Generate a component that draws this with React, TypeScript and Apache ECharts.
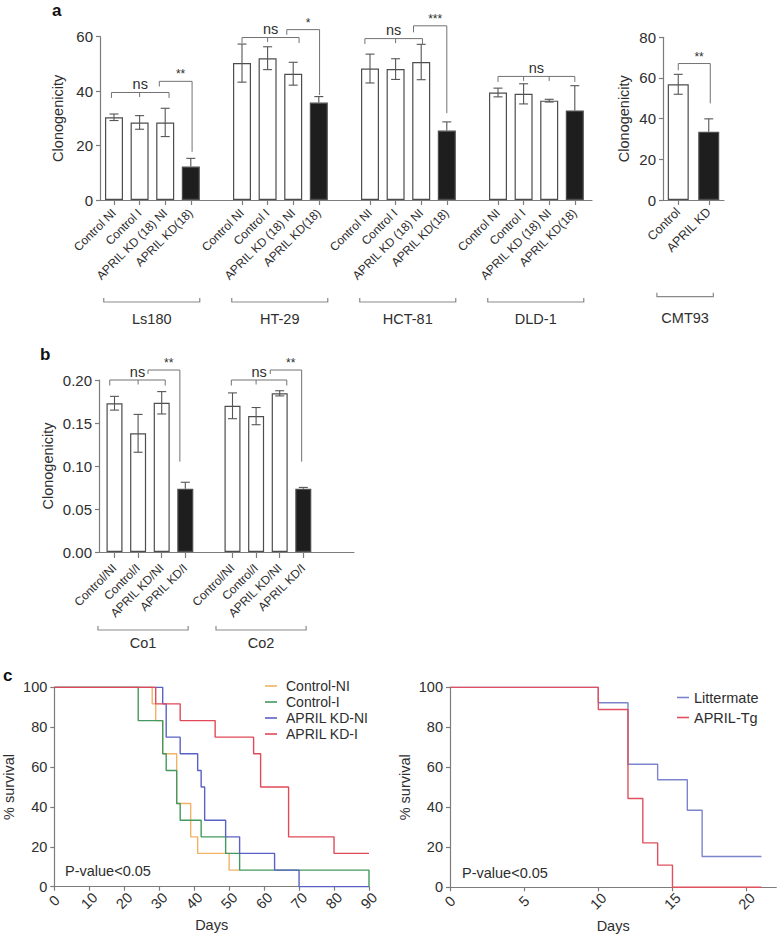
import React, { useEffect, useRef } from 'react';
import * as echarts from 'echarts';

const FONT = "'Liberation Sans', Arial, Helvetica, sans-serif";
const TXT = '#2e2e2e';
const AXIS = '#7c7c7c';
const EDGE = '#4d4d4d';
const DARK = '#1e1e1e';
const BRK = '#727272';

// ---------------- Panel a (human cell lines) ----------------
const aGroups = ['Ls180', 'HT-29', 'HCT-81', 'DLD-1'];
const aConditions = ['Control NI', 'Control I', 'APRIL KD (18) NI', 'APRIL KD(18)'];
const aDark = [false, false, false, true];
const ls180Means = [30.4, 28.5, 28.5, 12.3];
const ls180Errors = [1.2, 2.5, 5.2, 3.0];
const ht29Means = [50.3, 52.1, 46.4, 35.8];
const ht29Errors = [7.0, 4.2, 4.2, 2.2];
const hct81Means = [48.3, 48.1, 50.7, 25.5];
const hct81Errors = [5.3, 3.8, 6.5, 3.2];
const dld1Means = [39.5, 39.0, 36.5, 32.9];
const dld1Errors = [1.6, 3.7, 0.5, 9.1];
const aMeans = [ls180Means, ht29Means, hct81Means, dld1Means];
const aErrors = [ls180Errors, ht29Errors, hct81Errors, dld1Errors];
const aYTicks = { min: 0, max: 60, interval: 20 };
// significance annotations (x in category index units, y in data units)
const aNsBrackets = [
  { from: -0.1, to: 2.15, y: 39.5, label: 'ns' },
  { from: 5, to: 7.23, y: 59.7, label: 'ns' },
  { from: 9.8, to: 12.05, y: 59.3, label: 'ns' },
  { from: 15, to: 18, y: 45.4, label: 'ns' },
];
const aStarBrackets = [
  { x0: 1.77, y0: 41.7, top: 43.6, x1: 3.05, y1: 17.7, label: '**' },
  { x0: 6.75, y0: 60.7, top: 62.6, x1: 8.03, y1: 38.6, label: '*' },
  { x0: 11.7, y0: 61.6, top: 64.0, x1: 13, y1: 31.9, label: '***' },
];

// ---------------- Panel a (CMT93) ----------------
const cmtGroup = 'CMT93';
const cmtConditions = ['Control', 'APRIL KD'];
const cmtDark = [false, true];
const cmtMeans = [56.9, 33.5];
const cmtErrors = [4.9, 6.4];
const cmtYTicks = { min: 0, max: 80, interval: 20 };
const cmtStarBrackets = [{ x0: 0, y0: 63.8, top: 67.1, x1: 1.05, y1: 47.5, label: '**' }];

// ---------------- Panel b ----------------
const bGroups = ['Co1', 'Co2'];
const bConditions = ['Control/NI', 'Control/I', 'APRIL KD/NI', 'APRIL KD/I'];
const bDark = [false, false, false, true];
const co1Means = [0.173, 0.138, 0.1735, 0.0736];
const co1Errors = [0.008, 0.022, 0.013, 0.0075];
const co2Means = [0.170, 0.158, 0.1845, 0.0736];
const co2Errors = [0.015, 0.010, 0.003, 0.0015];
const bMeans = [co1Means, co2Means];
const bErrors = [co1Errors, co2Errors];
const bYTicks = { min: 0, max: 0.2, interval: 0.05 };
const bNsBrackets = [
  { from: -0.2, to: 2.15, y: 0.2, label: 'ns' },
  { from: 4.95, to: 7.3, y: 0.2, label: 'ns' },
];
const bStarBrackets = [
  { x0: 1.42, y0: 0.207, top: 0.2116, x1: 2.77, y1: 0.105, label: '**' },
  { x0: 6.6, y0: 0.207, top: 0.2116, x1: 7.93, y1: 0.105, label: '**' },
];

// ---------------- Panel c (survival) ----------------
const kmLeftNames = ['Control-NI', 'Control-I', 'APRIL KD-NI', 'APRIL KD-I'];
const kmLeftColors = ['#F2B266', '#43995F', '#5A61C4', '#E04A58'];
const controlNI = [[0, 100], [28, 91.7], [29, 83.3], [31, 66.7], [35, 41.7], [39, 25], [41, 16.7], [50, 8.3], [53, 8.3]];
const controlI = [[0, 100], [24, 83.3], [31, 66.7], [32, 58.3], [35, 41.7], [36, 33.3], [42, 25], [49, 16.7], [53, 8.3], [90, 0]];
const aprilKdNI = [[0, 100], [31, 91.7], [32, 75], [36, 66.7], [41, 58.3], [42, 50], [43, 33.3], [49, 25], [53, 16.7], [63, 8.3], [70, 0], [90, 0]];
const aprilKdI = [[0, 100], [29, 91.7], [36, 83.3], [46, 75], [57, 66.7], [59, 50], [67, 25], [80, 16.7], [90, 16.7]];
const kmLeftData = [controlNI, controlI, aprilKdNI, aprilKdI];

const kmRightNames = ['Littermate', 'APRIL-Tg'];
const kmRightColors = ['#7C85CC', '#E0505F'];
const littermate = [[0, 100], [10, 92.3], [12, 61.5], [14, 53.8], [16, 38.5], [17, 15.4], [21, 15.4]];
const aprilTg = [[0, 100], [10, 88.9], [12, 44.4], [13, 22.2], [14, 11.1], [15, 0], [21, 0]];
const kmRightData = [littermate, aprilTg];
const pValueText = 'P-value<0.05';

// ---------------- helpers ----------------
function barStyle(dark: boolean) {
  return { color: dark ? DARK : '#ffffff', borderColor: EDGE, borderWidth: 1.2 };
}

function buildGrouped(groups: string[], conds: string[], means: number[][], errs: number[][], dark: boolean[]) {
  const cats: string[] = [];
  const bars: any[] = [];
  const errData: any[] = [];
  const starts: number[] = [];
  groups.forEach((g, gi) => {
    starts.push(cats.length);
    conds.forEach((c, ci) => {
      const idx = cats.length;
      cats.push(c);
      bars.push({ value: means[gi][ci], itemStyle: barStyle(dark[ci]) });
      errData.push([idx, means[gi][ci], errs[gi][ci], dark[ci] ? 1 : 0]);
    });
    if (gi < groups.length - 1) {
      cats.push('');
      bars.push('-');
    }
  });
  return { cats, bars, errData, starts };
}

function xAt(api: any, v: number) {
  const i = Math.floor(v);
  const a = api.coord([i, 0])[0];
  const b = api.coord([i + 1, 0])[0];
  return a + (v - i) * (b - a);
}
function yAt(api: any, v: number) {
  return api.coord([0, v])[1];
}
function txt(text: string, x: number, y: number, size: number, align: string, valign: string) {
  return {
    type: 'text',
    style: {
      text, x, y, fill: TXT, fontSize: size, fontFamily: FONT,
      align, verticalAlign: valign, textAlign: align, textVerticalAlign: valign,
    },
  };
}
function seg(x1: number, y1: number, x2: number, y2: number, color = BRK, w = 1) {
  return { type: 'line', shape: { x1, y1, x2, y2 }, style: { stroke: color, lineWidth: w } };
}

const errRender = (params: any, api: any) => {
  const i = api.value(0);
  const m = api.value(1);
  const e = api.value(2);
  const dark = api.value(3);
  const x = api.coord([i, m])[0];
  const yT = api.coord([i, m + e])[1];
  const yB = api.coord([i, dark ? m : m - e])[1];
  const w = 4.5;
  const c = '#555555';
  const ch: any[] = [seg(x, yT, x, yB, c, 1.1), seg(x - w, yT, x + w, yT, c, 1.1)];
  if (!dark) ch.push(seg(x - w, yB, x + w, yB, c, 1.1));
  return { type: 'group', children: ch };
};

const nsRender = (list: any[]) => (params: any, api: any) => {
  const b = list[params.dataIndex];
  const xa = xAt(api, b.from);
  const xb = xAt(api, b.to);
  const y = yAt(api, b.y);
  const ch: any[] = [
    { type: 'polyline', shape: { points: [[xa, y + 5.5], [xa, y], [xb, y], [xb, y + 5.5]] }, style: { stroke: BRK, lineWidth: 1, fill: 'none' } },
  ];
  for (let i = Math.ceil(b.from); i <= Math.floor(b.to); i++) {
    if (i - b.from > 0.5 && b.to - i > 0.5) {
      const xi = xAt(api, i);
      ch.push(seg(xi, y, xi, y + 4.5));
    }
  }
  ch.push(txt(b.label, (xa + xb) / 2, y - 1, 14.5, 'center', 'bottom'));
  return { type: 'group', children: ch };
};

const starRender = (list: any[]) => (params: any, api: any) => {
  const b = list[params.dataIndex];
  const xa = xAt(api, b.x0);
  const xb = xAt(api, b.x1);
  const y0 = yAt(api, b.y0);
  const yt = yAt(api, b.top);
  const y1 = yAt(api, b.y1);
  return {
    type: 'group',
    children: [
      { type: 'polyline', shape: { points: [[xa, y0], [xa, yt], [xb, yt], [xb, y1]] }, style: { stroke: BRK, lineWidth: 1, fill: 'none' } },
      txt(b.label, xa + 0.65 * (xb - xa), yt - 1, 12, 'center', 'bottom'),
    ],
  };
};

const groupRender = (names: string[], starts: number[], n: number, padL: number, padR: number, lineOff: number, labelOff: number) =>
  (params: any, api: any) => {
    const k = params.dataIndex;
    const xa = xAt(api, starts[k] + padL);
    const xb = xAt(api, starts[k] + n - 1 + padR);
    const base = yAt(api, 0);
    const y = base + lineOff;
    return {
      type: 'group',
      children: [
        { type: 'polyline', shape: { points: [[xa, y - 4], [xa, y], [xb, y], [xb, y - 4]] }, style: { stroke: '#8a8a8a', lineWidth: 1.2, fill: 'none' } },
        txt(names[k], (xa + xb) / 2, base + labelOff, 14.5, 'center', 'middle'),
      ],
    };
  };

// ---------------- build ----------------
const A = buildGrouped(aGroups, aConditions, aMeans, aErrors, aDark);
const B = buildGrouped(bGroups, bConditions, bMeans, bErrors, bDark);
const cmtBars = cmtMeans.map((m, i) => ({ value: m, itemStyle: barStyle(cmtDark[i]) }));
const cmtErr = cmtMeans.map((m, i) => [i, m, cmtErrors[i], cmtDark[i] ? 1 : 0]);

const axisLineStyle = { color: AXIS, width: 1.2 };
const hiddenX = (gi: number) => ({
  gridIndex: gi, type: 'value', min: 0, max: 1,
  axisLine: { show: true, onZero: false, lineStyle: axisLineStyle },
  axisTick: { show: false }, axisLabel: { show: false }, splitLine: { show: false },
});
const hiddenY = (gi: number, t: any) => ({
  gridIndex: gi, type: 'value', min: t.min, max: t.max, show: false, splitLine: { show: false },
});
const visY = (gi: number, t: any, name: string, gap: number, fmt?: any, fs = 15) => ({
  gridIndex: gi, type: 'value', min: t.min, max: t.max, interval: t.interval,
  name, nameLocation: 'middle', nameGap: gap,
  nameTextStyle: { color: TXT, fontSize: 14.5, fontFamily: FONT },
  axisLine: { show: true, onZero: false, lineStyle: axisLineStyle },
  axisTick: { show: true, inside: false, length: 4, lineStyle: axisLineStyle },
  axisLabel: { color: TXT, fontSize: fs, fontFamily: FONT, margin: 7, formatter: fmt },
  splitLine: { show: false },
});
const catX = (gi: number, cats: string[], showLine: boolean, fs: number, tickLen: number, margin: number) => ({
  gridIndex: gi, type: 'category', data: cats,
  axisLine: { show: showLine, onZero: false, lineStyle: axisLineStyle },
  axisTick: {
    show: true, alignWithLabel: true, length: tickLen, lineStyle: axisLineStyle,
    interval: (index: number, value: string) => value !== '',
  },
  axisLabel: { interval: 0, rotate: 45, color: TXT, fontSize: fs, fontFamily: FONT, margin },
  splitLine: { show: false },
});
const kmX = (gi: number, max: number, interval: number) => ({
  gridIndex: gi, type: 'value', min: 0, max, interval,
  name: 'Days', nameLocation: 'middle', nameGap: 31,
  nameTextStyle: { color: TXT, fontSize: 14.5, fontFamily: FONT },
  axisLine: { show: true, onZero: false, lineStyle: axisLineStyle },
  axisTick: { show: true, length: 4, lineStyle: axisLineStyle },
  axisLabel: {
    rotate: 45, align: 'center', verticalAlign: 'middle', margin: 14,
    color: TXT, fontSize: 14.5, fontFamily: FONT, showMaxLabel: max % interval === 0,
  },
  splitLine: { show: false },
});

const customBase = (xi: number, yi: number) => ({ type: 'custom', xAxisIndex: xi, yAxisIndex: yi, silent: true, z: 5, clip: false });

function txtG(t: string, x: number, y: number) {
  return {
    type: 'text', x, y, silent: true,
    style: { text: t, fill: '#111', fontSize: 17, fontWeight: 'bold', fontFamily: FONT, align: 'left', verticalAlign: 'middle', textAlign: 'left', textVerticalAlign: 'middle' },
  };
}
function plain(t: string, x: number, y: number) {
  return {
    type: 'text', x, y, silent: true,
    style: { text: t, fill: TXT, fontSize: 14.5, fontFamily: FONT, align: 'left', verticalAlign: 'middle', textAlign: 'left', textVerticalAlign: 'middle' },
  };
}

const option: any = {
  animation: false,
  textStyle: { fontFamily: FONT },
  grid: [
    { left: 100, top: 36.7, width: 492, height: 163.3 }, // 0 a axes
    { left: 101.2, top: 36.7, width: 486.4, height: 163.3 }, // 1 a bars
    { left: 663, top: 37.3, width: 61, height: 162.7 }, // 2 cmt
    { left: 99, top: 380, width: 255, height: 172 }, // 3 b axes
    { left: 102.7, top: 380, width: 212.4, height: 172 }, // 4 b bars
    { left: 54.3, top: 687.3, width: 314.7, height: 199.4 }, // 5 km left
    { left: 450, top: 687.3, width: 326.3, height: 200 }, // 6 km right
  ],
  xAxis: [
    hiddenX(0),
    catX(1, A.cats, false, 12, 5, 11),
    catX(2, cmtConditions, true, 12.5, 5, 10),
    hiddenX(3),
    catX(4, B.cats, false, 12, 6, 14),
    kmX(5, 90, 10),
    kmX(6, 22, 5),
  ],
  yAxis: [
    visY(0, aYTicks, 'Clonogenicity', 34),
    hiddenY(1, aYTicks),
    visY(2, cmtYTicks, 'Clonogenicity', 32),
    visY(3, bYTicks, 'Clonogenicity', 44, (v: number) => v.toFixed(2)),
    hiddenY(4, bYTicks),
    visY(5, { min: 0, max: 100, interval: 20 }, '% survival', 38, undefined, 14.5),
    visY(6, { min: 0, max: 100, interval: 20 }, '% survival', 38, undefined, 14.5),
  ],
  legend: [
    {
      orient: 'vertical', left: 260, top: 673, itemWidth: 12, itemHeight: 1.6, itemGap: 0,
      icon: 'rect', selectedMode: false, data: kmLeftNames,
      textStyle: { color: TXT, fontSize: 14, fontFamily: FONT, lineHeight: 16, padding: [0, 0, 0, 4] },
    },
    {
      orient: 'vertical', left: 672, top: 684, itemWidth: 12, itemHeight: 1.6, itemGap: 3,
      icon: 'rect', selectedMode: false, data: kmRightNames,
      textStyle: { color: TXT, fontSize: 14.5, fontFamily: FONT, lineHeight: 17 },
    },
  ],
  graphic: [
    txtG('a', 52, 10),
    txtG('b', 40, 354),
    txtG('c', 3, 675),
    plain(pValueText, 65, 871),
    plain(pValueText, 462, 873),
  ],
  series: [
    // panel a bars
    { type: 'bar', xAxisIndex: 1, yAxisIndex: 1, data: A.bars, barWidth: 18, silent: true },
    { ...customBase(1, 1), data: A.errData, renderItem: errRender },
    { ...customBase(1, 1), data: aNsBrackets.map((b, k) => [k, b.y]), renderItem: nsRender(aNsBrackets) },
    { ...customBase(1, 1), data: aStarBrackets.map((b, k) => [k, b.top]), renderItem: starRender(aStarBrackets) },
    { ...customBase(1, 1), data: aGroups.map((g, k) => [k, 0]), renderItem: groupRender(aGroups, A.starts, aConditions.length, -0.4, 0.35, 102, 119) },
    // CMT93
    { type: 'bar', xAxisIndex: 2, yAxisIndex: 2, data: cmtBars, barWidth: 21, silent: true },
    { ...customBase(2, 2), data: cmtErr, renderItem: errRender },
    { ...customBase(2, 2), data: cmtStarBrackets.map((b, k) => [k, b.top]), renderItem: starRender(cmtStarBrackets) },
    { ...customBase(2, 2), data: [[0, 0]], renderItem: groupRender([cmtGroup], [0], 2, -0.7, 0.15, 96.7, 118) },
    // panel b
    { type: 'bar', xAxisIndex: 4, yAxisIndex: 4, data: B.bars, barWidth: 16, silent: true },
    { ...customBase(4, 4), data: B.errData, renderItem: errRender },
    { ...customBase(4, 4), data: bNsBrackets.map((b, k) => [k, b.y]), renderItem: nsRender(bNsBrackets) },
    { ...customBase(4, 4), data: bStarBrackets.map((b, k) => [k, b.top]), renderItem: starRender(bStarBrackets) },
    { ...customBase(4, 4), data: bGroups.map((g, k) => [k, 0]), renderItem: groupRender(bGroups, B.starts, bConditions.length, -0.7, 0.12, 78, 91) },
    // panel c
    ...kmLeftNames.map((name, i) => ({
      type: 'line', name, xAxisIndex: 5, yAxisIndex: 5, data: kmLeftData[i], step: 'end',
      showSymbol: false, symbol: 'none', silent: true, color: kmLeftColors[i],
      lineStyle: { color: kmLeftColors[i], width: 1.4 },
    })),
    ...kmRightNames.map((name, i) => ({
      type: 'line', name, xAxisIndex: 6, yAxisIndex: 6, data: kmRightData[i], step: 'end',
      showSymbol: false, symbol: 'none', silent: true, color: kmRightColors[i],
      lineStyle: { color: kmRightColors[i], width: 1.4 },
    })),
  ],
};

export default function App() {
  const ref = useRef<HTMLDivElement>(null);
  useEffect(() => {
    if (!ref.current) return;
    const chart = echarts.init(ref.current, null, { renderer: 'svg' });
    chart.setOption(option);
    return () => chart.dispose();
  }, []);
  return (
    <div
      ref={ref}
      style={{ position: 'fixed', left: 0, top: 0, width: 778, height: 937, background: '#ffffff' }}
    />
  );
}
